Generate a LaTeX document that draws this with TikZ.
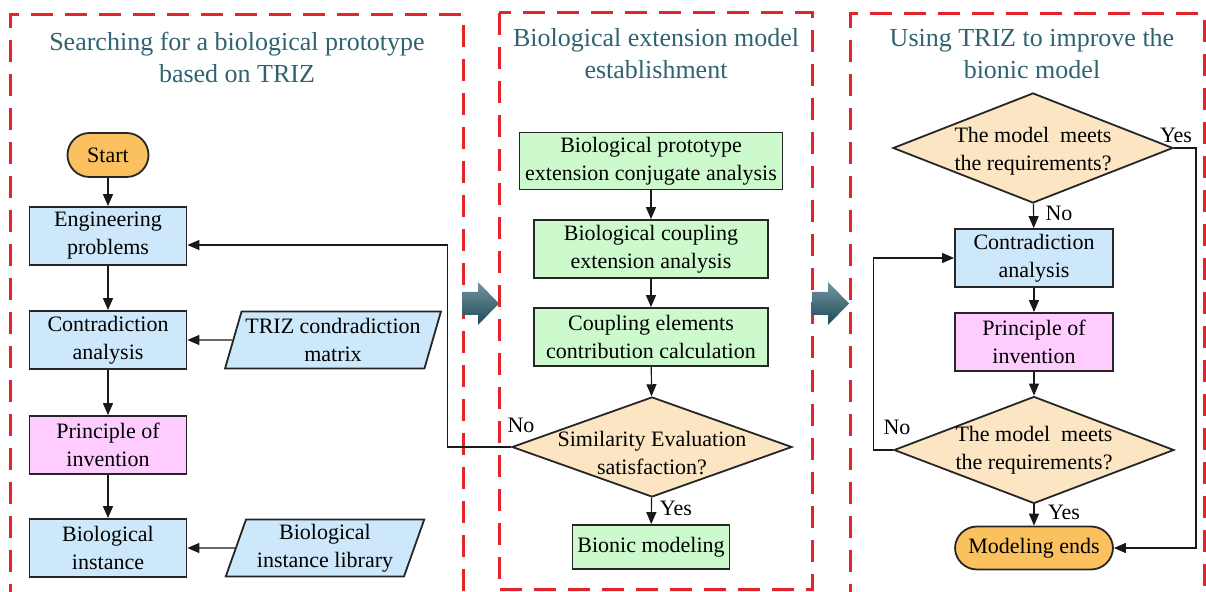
\documentclass[tikz,border=0pt]{standalone}
\usepackage{fontspec}
\setmainfont{Liberation Serif}
\usetikzlibrary{shapes.geometric,arrows.meta,calc}
\definecolor{dred}{HTML}{E3242B}
\definecolor{ttl}{HTML}{2F6371}
\definecolor{cblue}{HTML}{CCE8FA}
\definecolor{cgreen}{HTML}{CCFACC}
\definecolor{cpink}{HTML}{FFCCFF}
\definecolor{ctan}{HTML}{FCE5C2}
\definecolor{corange}{HTML}{FBC15E}
\definecolor{adark}{HTML}{1C4B5A}
\definecolor{alight}{HTML}{6E98A6}
\begin{document}
\begin{tikzpicture}[x=0.5pt,y=-0.5pt,
  panel/.style={draw=dred, line width=1.5pt, dash pattern=on 11pt off 6pt},
  box/.style={draw=black!85, line width=0.9pt, align=center, inner sep=1pt, font=\fontsize{11}{14}\selectfont},
  bluebox/.style={box, fill=cblue, minimum width=78.5pt, minimum height=29pt},
  pinkbox/.style={box, fill=cpink, minimum width=78.5pt, minimum height=29pt},
  greenbox/.style={box, fill=cgreen, minimum height=29pt},
  pill/.style={box, fill=corange, rounded corners=11pt, minimum height=22pt},
  para/.style={box, fill=cblue, trapezium, trapezium left angle=70, trapezium right angle=110, trapezium stretches=true, inner sep=0pt, minimum height=28.5pt},
  dia/.style={box, fill=ctan, diamond, inner sep=0pt, minimum width=140pt},
  ttlstyle/.style={text=ttl, align=center, font=\fontsize{13}{16}\selectfont},
  lbl/.style={font=\fontsize{11}{13}\selectfont, inner sep=0pt},
  arr/.style={draw=black!90, line width=0.6pt, -{Triangle[length=6pt,width=5pt]}},
  barrow/.style={top color=alight, bottom color=adark, middle color=adark!80}
]
\useasboundingbox (0,0) rectangle (1206,592);
% panels
\draw[panel] (10,640) -- (10,15) -- (463,15) -- (463,640);
\draw[panel] (499,13) rectangle (812,590);
\draw[panel] (850,640) -- (850,14) -- (1204,14) -- (1204,640);
% block arrows
\shade[barrow] (462,292) -- (478,292) -- (478,282) -- (499,303.5) -- (478,325) -- (478,315) -- (462,315) -- cycle;
\shade[barrow] (812,292) -- (828,292) -- (828,282) -- (849,303.5) -- (828,325) -- (828,315) -- (812,315) -- cycle;
% titles
\node[ttlstyle] (t1) at (237,57) {Searching for a biological prototype\\based on TRIZ};
\node[ttlstyle] (t2) at (656,54) {Biological extension model\\establishment};
\node[ttlstyle] (t3) at (1032,54) {Using TRIZ to improve the\\bionic model};
% left column
\node[pill, minimum width=40.5pt] (start) at (108,155) {Start};
\node[bluebox] (eng) at (108,236) {Engineering\\problems};
\node[bluebox] (con) at (108,340) {Contradiction\\analysis};
\node[pinkbox] (pri) at (108,445) {Principle of\\invention};
\node[bluebox] (bio) at (108,548) {Biological\\instance};
\node[para, minimum width=108pt] (triz) at (333,340) {TRIZ condradiction\\matrix};
\node[para, minimum width=100pt] (lib) at (325,548) {Biological\\instance library};
% middle column
\node[greenbox, minimum width=131.5pt, minimum height=28.5pt] (b1) at (651,161) {Biological prototype\\extension conjugate analysis};
\node[greenbox, minimum width=117pt] (b2) at (651,249) {Biological coupling\\extension analysis};
\node[greenbox, minimum width=117pt] (b3) at (651,337) {Coupling elements\\contribution calculation};
\node[dia, minimum height=50pt, label={[align=center,font=\fontsize{11}{14}\selectfont,yshift=-3pt]center:Similarity Evaluation\\satisfaction?}] (sim) at (652,447) {};
\node[greenbox, minimum width=78.5pt, minimum height=22pt] (bm) at (651,547) {Bionic modeling};
% right column
\node[dia, minimum height=55pt, label={[align=center,font=\fontsize{11}{14}\selectfont,yshift=-1.5pt]center:The model\ \ meets\\the requirements?}] (r1) at (1033,148) {};
\node[bluebox, minimum width=79pt] (rca) at (1034,258) {Contradiction\\analysis};
\node[pinkbox, minimum width=79pt] (rpi) at (1034,342) {Principle of\\invention};
\node[dia, minimum height=53.5pt, label={[align=center,font=\fontsize{11}{14}\selectfont]center:The model\ \ meets\\the requirements?}] (r2) at (1034,450) {};
\node[pill, minimum width=79pt, minimum height=21.5pt] (fin) at (1034,548) {Modeling ends};
% connectors left
\draw[arr] (start) -- (eng);
\draw[arr] (eng) -- (con);
\draw[arr] (con) -- (pri);
\draw[arr] (pri) -- (bio);
\draw[arr] (triz.west) -- (con.east);
\draw[arr] (lib.west) -- (bio.east);
\draw[arr] (sim.west) -- ++(-64,0) |- ($(eng.east)+(0,9)$);
% connectors middle
\draw[arr] (b1) -- (b2);
\draw[arr] (b2) -- (b3);
\draw[arr] (b3) -- (sim);
\draw[arr] (sim) -- (bm);
% connectors right
\draw[arr] (r1) -- (rca);
\draw[arr] (rca) -- (rpi);
\draw[arr] (rpi) -- (r2);
\draw[arr] (r2) -- (fin);
\draw[arr] (r2.west) -- ++(-20,0) |- (rca.west);
\draw[arr] (r1.east) -- ++(22,0) |- (fin.east);
% labels
\node[lbl] (n1) at (521,425) {No};
\node[lbl] (y1) at (676,508) {Yes};
\node[lbl] (y2) at (1176,135) {Yes};
\node[lbl] (n2) at (1059,213) {No};
\node[lbl] (n3) at (897,427) {No};
\node[lbl] (y3) at (1064,512) {Yes};
\end{tikzpicture}
\end{document}
